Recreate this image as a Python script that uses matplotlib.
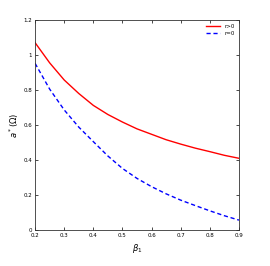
import matplotlib
matplotlib.use("Agg")
from matplotlib import pyplot as plt

beta = [0.2, 0.25, 0.3, 0.35, 0.4, 0.45, 0.5, 0.55, 0.6, 0.65, 0.7, 0.75, 0.8, 0.85, 0.9]
a_pos = [1.07, 0.955, 0.857, 0.78, 0.712, 0.66, 0.617, 0.578, 0.547, 0.516, 0.491, 0.468, 0.448, 0.427, 0.41]
a_zero = [0.952, 0.805, 0.686, 0.588, 0.505, 0.423, 0.352, 0.295, 0.248, 0.207, 0.171, 0.14, 0.11, 0.082, 0.057]

fig = plt.figure(figsize=(2.7, 2.66), dpi=100)
ax = fig.add_axes([0.13, 0.135, 0.755, 0.79])
ax.plot(beta, a_pos, color='red', lw=1.0, label='r>0')
ax.plot(beta, a_zero, color='blue', lw=1.0, ls='--', dashes=(3, 2), label='r=0')
ax.set_xlim(0.2, 0.9)
ax.set_ylim(0, 1.2)
ax.set_xticks([0.2, 0.3, 0.4, 0.5, 0.6, 0.7, 0.8, 0.9])
ax.set_yticks([0, 0.2, 0.4, 0.6, 0.8, 1, 1.2])
ax.set_yticklabels(['0', '0.2', '0.4', '0.6', '0.8', '1', '1.2'])
ax.tick_params(direction='in', length=2, width=0.5, labelsize=4, top=True, right=True, pad=2)
for s in ax.spines.values():
    s.set_linewidth(0.6)
    s.set_color('#333333')
ax.set_xlabel(r'$\beta_1$', fontsize=6, labelpad=3)
ax.set_ylabel(r'$a^*(\Omega)$', fontsize=6, labelpad=2)
ax.legend(loc='upper right', fontsize=4, frameon=False, handlelength=2.5, borderaxespad=0.3, labelspacing=0.4)
fig.savefig('out.png', dpi=100)
